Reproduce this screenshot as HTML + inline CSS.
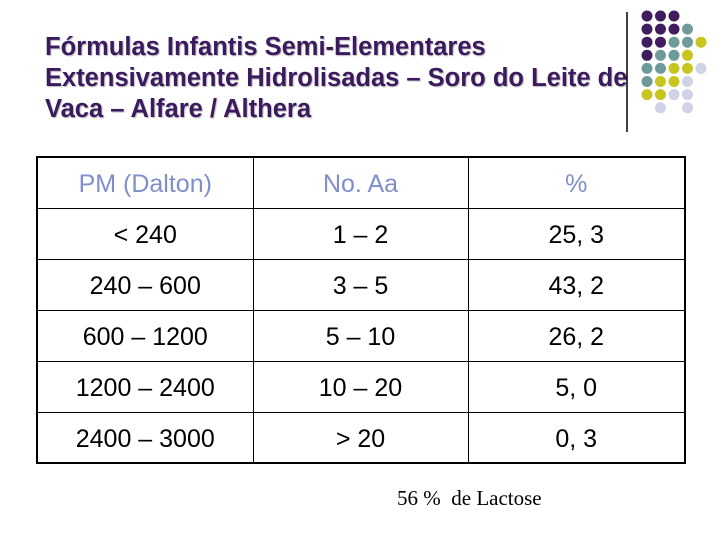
<!DOCTYPE html>
<html><head><meta charset="utf-8"><style>
body{margin:0;width:720px;height:540px;background:#fff;position:relative;overflow:hidden;font-family:"Liberation Sans",sans-serif}
#title{position:absolute;left:45px;top:32px;font-weight:bold;font-size:25.5px;line-height:31px;color:#3b1a5e;text-shadow:1px 1px 1px #bbb;white-space:nowrap}
table{position:absolute;left:36px;top:156px;border-collapse:collapse;border:2px solid #000}
td{border:1px solid #000;text-align:center;font-size:25px;line-height:20px;height:51px;padding:3px 0 0 0;box-sizing:border-box}
tr.h td{color:#7f8fcc}
#note{position:absolute;left:397px;top:486px;font-family:"Liberation Serif",serif;font-size:21px}
</style></head><body>
<div id="title">Fórmulas Infantis Semi-Elementares<br>Extensivamente Hidrolisadas – Soro do Leite de<br>Vaca – Alfare / Althera</div>
<svg width="720" height="540" style="position:absolute;left:0;top:0">
<line x1="627" y1="12" x2="627" y2="132" stroke="#000" stroke-width="1.5"/>
<g id="dots"></g></svg>
<table>
<colgroup><col style="width:216px"><col style="width:215px"><col style="width:217px"></colgroup>
<tr class="h"><td>PM (Dalton)</td><td>No. Aa</td><td>%</td></tr>
<tr><td>&lt; 240</td><td>1 – 2</td><td>25, 3</td></tr>
<tr><td>240 – 600</td><td>3 – 5</td><td>43, 2</td></tr>
<tr><td>600 – 1200</td><td>5 – 10</td><td>26, 2</td></tr>
<tr><td>1200 – 2400</td><td>10 – 20</td><td>5, 0</td></tr>
<tr><td>2400 – 3000</td><td>&gt; 20</td><td>0, 3</td></tr>
</table>
<div id="note">56 %&nbsp; de Lactose</div>
<script>
const pattern=["PPP","PPPT","PPTTY","PTTY","TTYYL","TYYL","YYLL","_L_L"];
const colors={P:"#3f1d5e",T:"#6f9a9a",Y:"#c8c51f",L:"#d0d2e6"};
const g=document.getElementById('dots');
pattern.forEach((row,r)=>{[...row].forEach((c,i)=>{if(c==="_")return;
const e=document.createElementNS("http://www.w3.org/2000/svg","circle");
e.setAttribute('cx',647+i*13.5);e.setAttribute('cy',16+r*13.1);e.setAttribute('r',5.5);e.setAttribute('fill',colors[c]);


g.appendChild(e);});});
</script>
</body></html>
